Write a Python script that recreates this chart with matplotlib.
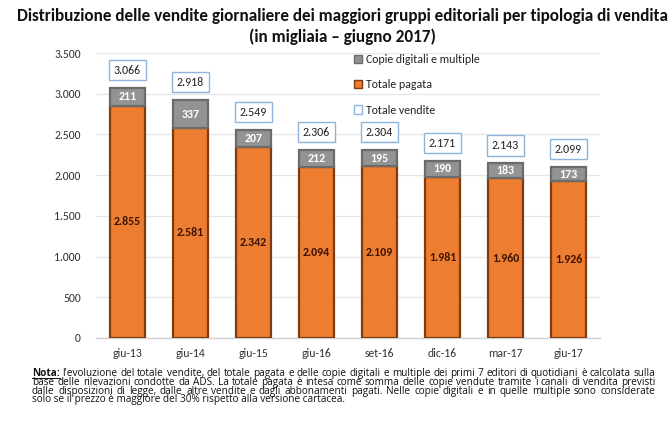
import matplotlib
matplotlib.use("Agg")
import matplotlib.pyplot as plt
from matplotlib.patches import Patch
from matplotlib.lines import Line2D
from matplotlib.ticker import FuncFormatter, MultipleLocator

categories = ["giu-13", "giu-14", "giu-15", "giu-16", "set-16", "dic-16", "mar-17", "giu-17"]
totale_pagata = [2855, 2581, 2342, 2094, 2109, 1981, 1960, 1926]
copie_digitali = [211, 337, 207, 212, 195, 190, 183, 173]
totale_vendite = [3066, 2918, 2549, 2306, 2304, 2171, 2143, 2099]

title_lines = ["Distribuzione delle vendite giornaliere dei maggiori gruppi editoriali per tipologia di vendita",
               "(in migliaia \u2013 giugno 2017)"]
legend_labels = ["Copie digitali e multiple", "Totale pagata", "Totale vendite"]
note_bold = "Nota:"
note_lines = [
    "l'evoluzione del totale vendite, del totale pagata e delle copie digitali e multiple dei primi 7 editori di quotidiani è calcolata sulla",
    "base delle rilevazioni condotte da ADS. La totale pagata è intesa come somma delle copie vendute tramite i canali di vendita previsti",
    "dalle disposizioni di legge, dalle altre vendite e dagli abbonamenti pagati. Nelle copie digitali e in quelle multiple sono  considerate",
    "solo se il prezzo è maggiore del 30% rispetto alla versione cartacea.",
]

FONT = "Carlito"
NOTE_FONT = ["Open Sans", "DejaVu Sans"]
plt.rcParams["font.family"] = [FONT, "DejaVu Sans"]

W, H = 670, 421
fig = plt.figure(figsize=(W / 100, H / 100), dpi=100)
fig.patch.set_facecolor("white")
fig.canvas.draw()
renderer = fig.canvas.get_renderer()


def fx(px):
    return px / W


def fy(py):
    return 1 - py / H


def text_width(s, size, weight="normal", family=None):
    kw = {"family": family} if family else {}
    t = fig.text(0, 0, s, fontsize=size, fontweight=weight, **kw)
    w = t.get_window_extent(renderer).width
    t.remove()
    return w


def fit_size(s, target, start, weight="normal", family=None):
    size = start
    for _ in range(4):
        size = size * target / text_width(s, size, weight, family)
    return size


ax_left, ax_right, ax_top, ax_bottom = 96, 600, 53, 338
ax = fig.add_axes([fx(ax_left), fy(ax_bottom), fx(ax_right - ax_left), (ax_bottom - ax_top) / H])

orange = "#ED7D31"
orange_edge = "#7F3A0F"
gray = "#939393"
gray_edge = "#6B6B6B"
box_edge = "#8EB4DA"
FS = 8.6

x = list(range(len(categories)))
bw = 0.54
ax.bar(x, totale_pagata, width=bw, color=orange, edgecolor=orange_edge, linewidth=1.6, zorder=3)
ax.bar(x, copie_digitali, width=bw, bottom=totale_pagata, color=gray, edgecolor=gray_edge,
       linewidth=1.6, zorder=3)

for i in x:
    ax.text(i, totale_pagata[i] / 2, f"{totale_pagata[i]:,}".replace(",", "."),
            ha="center", va="center", fontsize=FS, fontweight="bold", color="#3B1405", zorder=4)
    ax.text(i, totale_pagata[i] + copie_digitali[i] / 2, str(copie_digitali[i]),
            ha="center", va="center", fontsize=FS, fontweight="bold", color="white", zorder=4)
    ax.annotate(f"{totale_vendite[i]:,}".replace(",", "."), xy=(i, totale_vendite[i]),
                xytext=(0, 18), textcoords="offset pixels", ha="center", va="center",
                fontsize=FS, color="#222222", zorder=5,
                bbox=dict(boxstyle="square,pad=0.38", facecolor="white", edgecolor=box_edge, linewidth=1.0))

ax.set_xlim(-0.5, len(categories) - 0.5)
ax.set_ylim(0, 3500)
ax.yaxis.set_major_locator(MultipleLocator(500))
ax.yaxis.set_major_formatter(FuncFormatter(lambda v, p: f"{int(v):,}".replace(",", ".")))
ax.set_xticks(x)
ax.set_xticklabels(categories)
ax.tick_params(axis="both", length=0, labelsize=8.4, colors="#333333")
ax.tick_params(axis="y", pad=11)
ax.tick_params(axis="x", pad=7)
ax.grid(axis="y", color="#E6E6E6", linewidth=0.9, zorder=0)
ax.set_axisbelow(True)
for s in ["top", "right", "left"]:
    ax.spines[s].set_visible(False)
ax.spines["bottom"].set_color("#D0D0D0")
ax.spines["bottom"].set_linewidth(1.0)

handles = [Patch(facecolor=gray, edgecolor=gray_edge, linewidth=1.0),
           Patch(facecolor=orange, edgecolor=orange_edge, linewidth=1.0),
           Patch(facecolor="white", edgecolor=box_edge, linewidth=1.0)]
leg = fig.legend(handles, legend_labels, loc="upper left", bbox_to_anchor=(fx(354), fy(54)),
                 frameon=False, fontsize=FS, handlelength=0.7, handleheight=0.7,
                 handletextpad=0.3, labelspacing=1.2, borderaxespad=0, borderpad=0)
for t in leg.get_texts():
    t.set_color("#222222")

# Title, scaled to the reference width
tsize = fit_size(title_lines[0], 652, 12, "bold")
fig.text(0.5 + fx(7), fy(16), title_lines[0], ha="center", va="center", fontsize=tsize, fontweight="bold", color="#111111")
fig.text(0.5 + fx(7), fy(37), title_lines[1], ha="center", va="center", fontsize=tsize, fontweight="bold", color="#111111")

# Note, justified
x0, x1 = 32, 655
line_y = [373.5, 382.3, 391.1, 399.9]
nfs = fit_size(note_lines[3], 342 - 32, 6.0, family=NOTE_FONT)
ncol = "#111111"

for li, line in enumerate(note_lines):
    y = fy(line_y[li])
    start = x0
    if li == 0:
        bt = fig.text(fx(x0), y, note_bold, fontsize=nfs, fontweight="bold", family=NOTE_FONT,
                      color=ncol, va="center", ha="left")
        bw_px = bt.get_window_extent(renderer).width
        fig.add_artist(Line2D([fx(x0), fx(x0 + bw_px)], [fy(line_y[li] + 4.2)] * 2, color=ncol, linewidth=0.7))
        start = x0 + bw_px + text_width(" ", nfs, family=NOTE_FONT)
    words = line.split()
    if li < 3:
        widths = [text_width(w, nfs, family=NOTE_FONT) for w in words]
        gap = (x1 - start - sum(widths)) / (len(words) - 1)
        cx = start
        for w, wd in zip(words, widths):
            fig.text(fx(cx), y, w, fontsize=nfs, family=NOTE_FONT, color=ncol, va="center", ha="left")
            cx += wd + gap
    else:
        fig.text(fx(start), y, line, fontsize=nfs, family=NOTE_FONT, color=ncol, va="center", ha="left")

fig.savefig("out.png", dpi=100, facecolor="white")
